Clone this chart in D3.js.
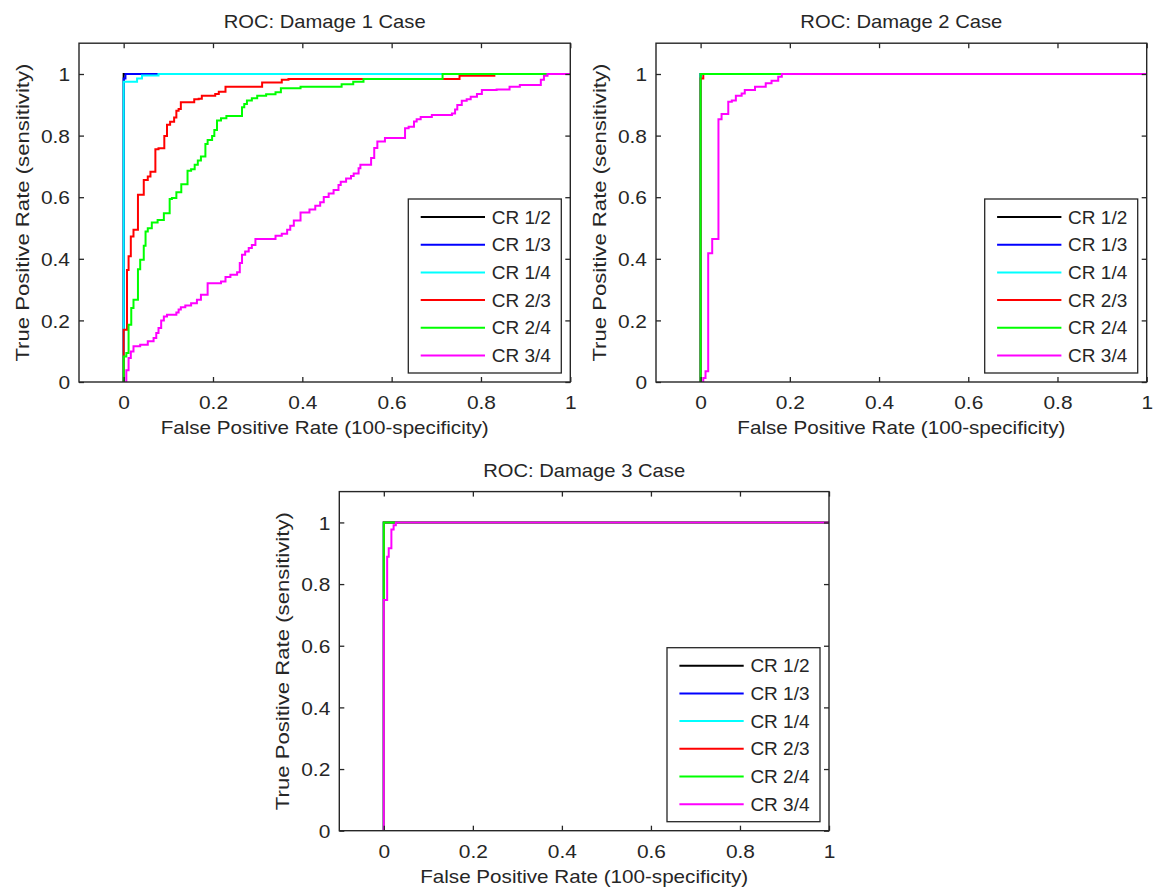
<!DOCTYPE html>
<html>
<head>
<meta charset="utf-8">
<script src="https://cdn.jsdelivr.net/npm/d3@7"></script>
<style>
  html, body { margin: 0; padding: 0; background: #ffffff; }
  svg { display: block; font-family: "Liberation Sans", Arial, sans-serif; }
</style>
</head>
<body>
<svg id="chart" width="1153" height="888"></svg>
<script>
// ---------------- data ----------------
const xTickValues = [0, 0.2, 0.4, 0.6, 0.8, 1];
const yTickValues = [0, 0.2, 0.4, 0.6, 0.8, 1];
const xDomain = [-0.1, 1];
const yDomain = [0, 1.1];
const panelTitles = ["ROC: Damage 1 Case", "ROC: Damage 2 Case", "ROC: Damage 3 Case"];
const xAxisLabel = "False Positive Rate (100-specificity)";
const yAxisLabel = "True Positive Rate (sensitivity)";
const seriesNames = ["CR 1/2", "CR 1/3", "CR 1/4", "CR 2/3", "CR 2/4", "CR 3/4"];
const seriesColors = ["#000000", "#0000ff", "#00ffff", "#ff0000", "#00ff00", "#ff00ff"];

// Damage 1 case: [false positive rate, true positive rate]
const d1_CR12 = [[0,0],[0,1],[1,1]];
const d1_CR13 = [[0,0],[0,0.985],[0.004,0.985],[0.004,1],[1,1]];
const d1_CR14 = [[0,0],[0,0.975],[0.03,0.975],[0.03,0.985],[0.041,0.985],[0.041,0.995],[0.078,0.995],[0.078,1],[1,1]];
const d1_CR23 = [[0,0],[0,0.17],[0.0075,0.17],[0.0075,0.364],[0.011,0.364],[0.011,0.408],[0.016,0.408],[0.016,0.472],[0.022,0.472],[0.022,0.494],[0.032,0.494],[0.032,0.608],[0.045,0.608],[0.045,0.656],[0.054,0.656],[0.054,0.667],[0.06,0.667],[0.06,0.683],[0.071,0.683],[0.071,0.756],[0.078,0.756],[0.078,0.759],[0.091,0.759],[0.091,0.799],[0.097,0.799],[0.097,0.835],[0.104,0.835],[0.104,0.845],[0.113,0.845],[0.113,0.859],[0.118,0.859],[0.118,0.881],[0.123,0.881],[0.123,0.886],[0.128,0.886],[0.128,0.908],[0.158,0.908],[0.158,0.918],[0.168,0.918],[0.168,0.92],[0.175,0.92],[0.175,0.929],[0.205,0.929],[0.205,0.935],[0.213,0.935],[0.213,0.942],[0.228,0.942],[0.228,0.959],[0.31,0.959],[0.31,0.972],[0.354,0.972],[0.354,0.981],[0.369,0.981],[0.369,0.984],[0.752,0.984],[0.752,0.994],[0.83,0.994],[0.83,1],[1,1]];
const d1_CR24 = [[0,0],[0,0.083],[0.006,0.083],[0.006,0.094],[0.011,0.094],[0.011,0.186],[0.017,0.186],[0.017,0.24],[0.022,0.24],[0.022,0.267],[0.032,0.267],[0.032,0.366],[0.037,0.366],[0.037,0.397],[0.045,0.397],[0.045,0.442],[0.049,0.442],[0.049,0.489],[0.054,0.489],[0.054,0.499],[0.063,0.499],[0.063,0.518],[0.076,0.518],[0.076,0.526],[0.09,0.526],[0.09,0.548],[0.103,0.548],[0.103,0.594],[0.108,0.594],[0.108,0.597],[0.118,0.597],[0.118,0.616],[0.129,0.616],[0.129,0.642],[0.143,0.642],[0.143,0.686],[0.151,0.686],[0.151,0.691],[0.159,0.691],[0.159,0.705],[0.166,0.705],[0.166,0.719],[0.173,0.719],[0.173,0.732],[0.183,0.732],[0.183,0.773],[0.188,0.773],[0.188,0.786],[0.198,0.786],[0.198,0.799],[0.203,0.799],[0.203,0.818],[0.209,0.818],[0.209,0.849],[0.218,0.849],[0.218,0.856],[0.23,0.856],[0.23,0.864],[0.265,0.864],[0.265,0.892],[0.27,0.892],[0.27,0.903],[0.276,0.903],[0.276,0.914],[0.287,0.914],[0.287,0.921],[0.299,0.921],[0.299,0.929],[0.319,0.929],[0.319,0.934],[0.34,0.934],[0.34,0.941],[0.352,0.941],[0.352,0.954],[0.396,0.954],[0.396,0.959],[0.488,0.959],[0.488,0.967],[0.514,0.967],[0.514,0.975],[0.537,0.975],[0.537,0.984],[0.714,0.984],[0.714,1],[1,1]];
const d1_CR34 = [[0.006,0],[0.006,0.038],[0.011,0.038],[0.011,0.078],[0.016,0.078],[0.016,0.099],[0.022,0.099],[0.022,0.116],[0.037,0.116],[0.037,0.121],[0.054,0.121],[0.054,0.132],[0.067,0.132],[0.067,0.143],[0.073,0.143],[0.073,0.159],[0.078,0.159],[0.078,0.175],[0.084,0.175],[0.084,0.2],[0.09,0.2],[0.09,0.213],[0.097,0.213],[0.097,0.218],[0.118,0.218],[0.118,0.226],[0.123,0.226],[0.123,0.235],[0.128,0.235],[0.128,0.243],[0.138,0.243],[0.138,0.248],[0.151,0.248],[0.151,0.256],[0.164,0.256],[0.164,0.267],[0.173,0.267],[0.173,0.283],[0.188,0.283],[0.188,0.321],[0.218,0.321],[0.218,0.326],[0.228,0.326],[0.228,0.341],[0.239,0.341],[0.239,0.348],[0.254,0.348],[0.254,0.356],[0.26,0.356],[0.26,0.386],[0.265,0.386],[0.265,0.413],[0.272,0.413],[0.272,0.424],[0.28,0.424],[0.28,0.435],[0.287,0.435],[0.287,0.445],[0.295,0.445],[0.295,0.464],[0.34,0.464],[0.34,0.475],[0.354,0.475],[0.354,0.481],[0.366,0.481],[0.366,0.494],[0.373,0.494],[0.373,0.507],[0.381,0.507],[0.381,0.524],[0.396,0.524],[0.396,0.55],[0.416,0.55],[0.416,0.56],[0.429,0.56],[0.429,0.572],[0.44,0.572],[0.44,0.584],[0.448,0.584],[0.448,0.601],[0.459,0.601],[0.459,0.612],[0.47,0.612],[0.47,0.623],[0.481,0.623],[0.481,0.64],[0.486,0.64],[0.486,0.65],[0.498,0.65],[0.498,0.661],[0.509,0.661],[0.509,0.669],[0.515,0.669],[0.515,0.677],[0.526,0.677],[0.526,0.694],[0.53,0.694],[0.53,0.705],[0.554,0.705],[0.554,0.727],[0.561,0.727],[0.561,0.76],[0.568,0.76],[0.568,0.781],[0.585,0.781],[0.585,0.792],[0.63,0.792],[0.63,0.824],[0.638,0.824],[0.638,0.829],[0.65,0.829],[0.65,0.846],[0.656,0.846],[0.656,0.853],[0.665,0.853],[0.665,0.86],[0.69,0.86],[0.69,0.867],[0.735,0.867],[0.735,0.872],[0.742,0.872],[0.742,0.885],[0.747,0.885],[0.747,0.899],[0.757,0.899],[0.757,0.913],[0.768,0.913],[0.768,0.918],[0.777,0.918],[0.777,0.926],[0.791,0.926],[0.791,0.935],[0.802,0.935],[0.802,0.948],[0.835,0.948],[0.835,0.95],[0.864,0.95],[0.864,0.959],[0.887,0.959],[0.887,0.964],[0.934,0.964],[0.934,0.981],[0.941,0.981],[0.941,0.994],[0.949,0.994],[0.949,1],[1,1]];

// Damage 2 case
const d2_CR12 = [[0,0],[0,1],[1,1]];
const d2_CR13 = [[0,0],[0,1],[1,1]];
const d2_CR14 = [[0,0],[0,1],[1,1]];
const d2_CR23 = [[0,0],[0,0.985],[0.006,0.985],[0.006,1],[1,1]];
const d2_CR24 = [[0,0],[0,1],[1,1]];
const d2_CR34 = [[0.006,0],[0.006,0.013],[0.011,0.013],[0.011,0.035],[0.017,0.035],[0.017,0.418],[0.026,0.418],[0.026,0.464],[0.04,0.464],[0.04,0.853],[0.047,0.853],[0.047,0.87],[0.062,0.87],[0.062,0.91],[0.07,0.91],[0.07,0.914],[0.079,0.914],[0.079,0.929],[0.092,0.929],[0.092,0.937],[0.099,0.937],[0.099,0.948],[0.122,0.948],[0.122,0.959],[0.146,0.959],[0.146,0.97],[0.159,0.97],[0.159,0.978],[0.174,0.978],[0.174,0.991],[0.182,0.991],[0.182,1],[1,1]];

// Damage 3 case
const d3_CR12 = [[0,0],[0,1],[1,1]];
const d3_CR13 = [[0,0],[0,1],[1,1]];
const d3_CR14 = [[0,0],[0,1],[1,1]];
const d3_CR23 = [[0,0],[0,1],[1,1]];
const d3_CR24 = [[0,0],[0,1],[1,1]];
const d3_CR34 = [[0,0],[0,0.748],[0.0075,0.748],[0.0075,0.889],[0.011,0.889],[0.011,0.916],[0.017,0.916],[0.017,0.977],[0.022,0.977],[0.022,0.991],[0.027,0.991],[0.027,1],[1,1]];

const panelSeries = [
  [d1_CR12, d1_CR13, d1_CR14, d1_CR23, d1_CR24, d1_CR34],
  [d2_CR12, d2_CR13, d2_CR14, d2_CR23, d2_CR24, d2_CR34],
  [d3_CR12, d3_CR13, d3_CR14, d3_CR23, d3_CR24, d3_CR34]
];

// ---------------- layout ----------------
const panelBoxes = [
  {left: 79, top: 43.2, right: 570.3, bottom: 382},
  {left: 656, top: 43.2, right: 1146.7, bottom: 382},
  {left: 339.3, top: 491.6, right: 829, bottom: 830.7}
];
const AXIS_COLOR = "#262626";
const FONT_SIZE = 19;

const svg = d3.select("#chart");
svg.append("rect").attr("width", 1153).attr("height", 888).attr("fill", "#fff");

function stretchText(sel, factor) {
  sel.each(function() {
    const len = this.getComputedTextLength();
    if (len > 0) {
      d3.select(this).attr("textLength", len * factor).attr("lengthAdjust", "spacingAndGlyphs");
    }
  });
}

panelBoxes.forEach((b, pi) => {
  const w = b.right - b.left, h = b.bottom - b.top;
  const g = svg.append("g").attr("transform", `translate(${b.left},${b.top})`);
  const x = d3.scaleLinear().domain(xDomain).range([0, w]);
  const y = d3.scaleLinear().domain(yDomain).range([h, 0]);

  // curves
  const clipId = "clip" + pi;
  g.append("clipPath").attr("id", clipId).append("rect")
    .attr("x", -1).attr("y", -1).attr("width", w + 2).attr("height", h + 2);
  const line = d3.line().x(d => x(d[0])).y(d => y(d[1]));
  const curves = g.append("g").attr("clip-path", `url(#${clipId})`);
  panelSeries[pi].forEach((s, si) => {
    curves.append("path").datum(s)
      .attr("d", line)
      .attr("fill", "none")
      .attr("stroke", seriesColors[si])
      .attr("stroke-width", 2)
      .attr("stroke-linejoin", "miter");
  });

  // axes (ticks inward on all four sides)
  const styleAxis = sel => {
    sel.select(".domain").remove();
    sel.selectAll(".tick line").attr("stroke", AXIS_COLOR).attr("stroke-width", 1.3);
    sel.selectAll(".tick text").attr("fill", AXIS_COLOR)
      .style("font-size", FONT_SIZE + "px")
      .style("font-family", '"Liberation Sans", Arial, sans-serif');
  };
  const fmt = d3.format("");
  const xb = g.append("g").attr("transform", `translate(0,${h})`)
    .call(d3.axisBottom(x).tickValues(xTickValues).tickFormat(fmt).tickSizeInner(-5).tickSizeOuter(0).tickPadding(0));
  styleAxis(xb);
  xb.selectAll(".tick text").attr("y", 27).attr("dy", null);
  stretchText(xb.selectAll(".tick text"), 1.1);

  const xt = g.append("g")
    .call(d3.axisTop(x).tickValues(xTickValues).tickFormat("").tickSizeInner(-5).tickSizeOuter(0));
  styleAxis(xt);

  const yl = g.append("g")
    .call(d3.axisLeft(y).tickValues(yTickValues).tickFormat(fmt).tickSizeInner(-5).tickSizeOuter(0).tickPadding(0));
  styleAxis(yl);
  yl.selectAll(".tick text").attr("x", -9).attr("dy", "0.35em");
  stretchText(yl.selectAll(".tick text"), 1.1);

  const yr = g.append("g").attr("transform", `translate(${w},0)`)
    .call(d3.axisRight(y).tickValues(yTickValues).tickFormat("").tickSizeInner(-5).tickSizeOuter(0));
  styleAxis(yr);

  // box
  g.append("rect").attr("x", 0).attr("y", 0).attr("width", w).attr("height", h)
    .attr("fill", "none").attr("stroke", AXIS_COLOR).attr("stroke-width", 1.4);

  // title
  g.append("text").attr("x", w / 2).attr("y", -15)
    .attr("text-anchor", "middle").attr("fill", AXIS_COLOR)
    .style("font-size", FONT_SIZE + "px")
    .attr("textLength", 202).attr("lengthAdjust", "spacingAndGlyphs")
    .text(panelTitles[pi]);

  // x label
  g.append("text").attr("x", w / 2).attr("y", h + 52)
    .attr("text-anchor", "middle").attr("fill", AXIS_COLOR)
    .style("font-size", FONT_SIZE + "px")
    .attr("textLength", 328).attr("lengthAdjust", "spacingAndGlyphs")
    .text(xAxisLabel);

  // y label
  g.append("text").attr("transform", `translate(-50,${h / 2}) rotate(-90)`)
    .attr("text-anchor", "middle").attr("fill", AXIS_COLOR)
    .style("font-size", FONT_SIZE + "px")
    .attr("textLength", 298).attr("lengthAdjust", "spacingAndGlyphs")
    .text(yAxisLabel);

  // legend
  const lw = 153, lh = 174;
  const lg = g.append("g").attr("transform", `translate(${w - 9 - lw},${h - 9 - lh})`);
  lg.append("rect").attr("width", lw).attr("height", lh)
    .attr("fill", "#fff").attr("stroke", AXIS_COLOR).attr("stroke-width", 1.3);
  seriesNames.forEach((name, si) => {
    const cy = 18 + si * 27.7;
    lg.append("line").attr("x1", 12.4).attr("x2", 76.7).attr("y1", cy).attr("y2", cy)
      .attr("stroke", seriesColors[si]).attr("stroke-width", 2);
    lg.append("text").attr("x", 83.4).attr("y", cy + 6.6)
      .attr("fill", AXIS_COLOR).style("font-size", FONT_SIZE + "px")
      .text(name);
  });
});
</script>
</body>
</html>
